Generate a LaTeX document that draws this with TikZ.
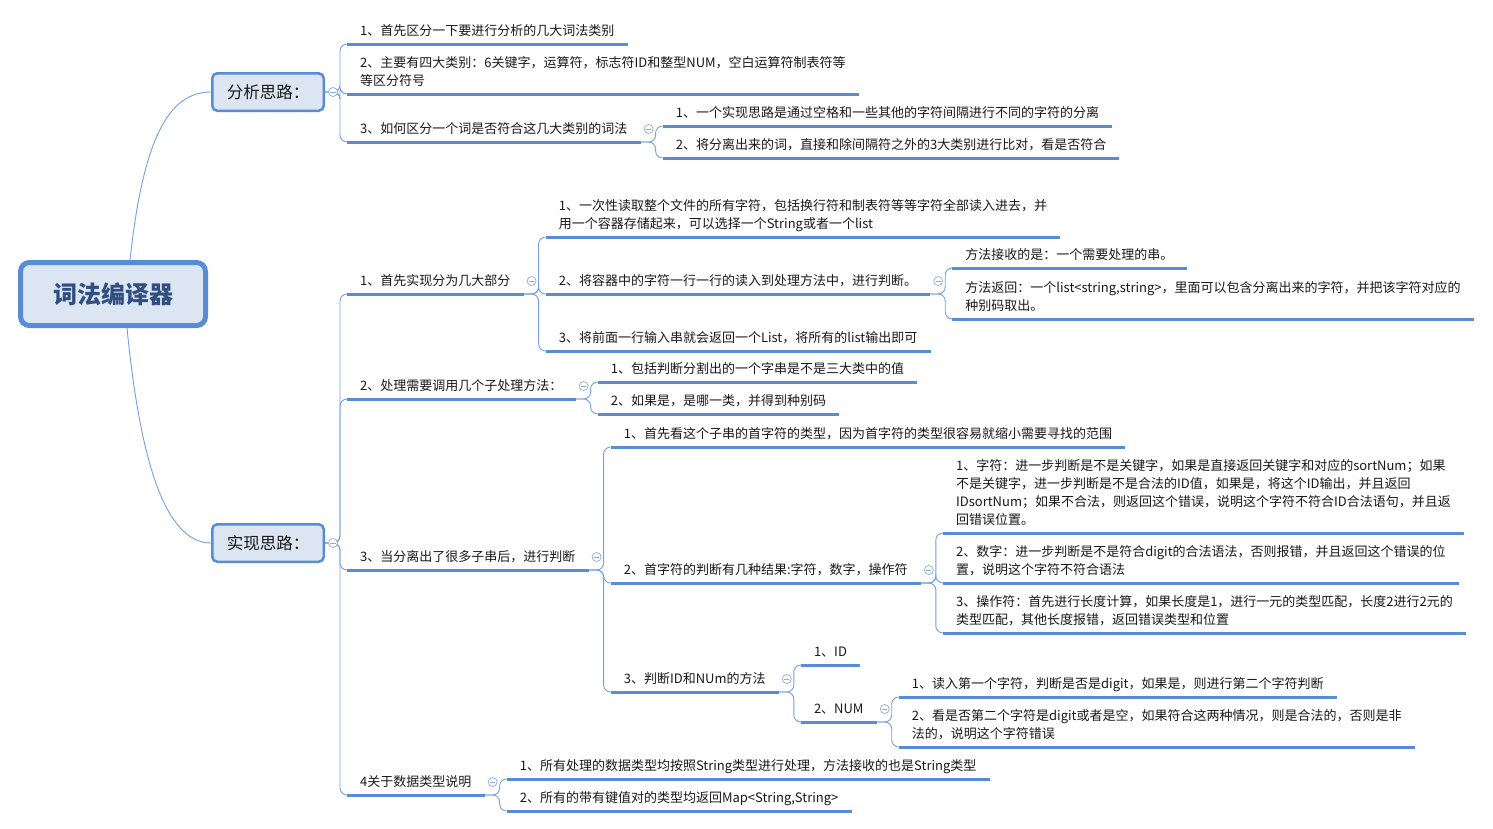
\documentclass[tikz,border=0pt]{standalone}
\usepackage{fontspec}
\newfontfamily\cjk{Noto Sans CJK SC}
\usetikzlibrary{calc}
\definecolor{ulc}{RGB}{88,140,212}
\definecolor{cnc}{RGB}{118,160,222}
\definecolor{boxf}{RGB}{220,230,242}
\definecolor{rootc}{RGB}{48,78,128}
\definecolor{togc}{RGB}{140,172,222}
\definecolor{txt}{RGB}{25,25,25}
\newcommand\mmbranch[2]{%
  \coordinate (#1j) at ([xshift=15pt]#1.south east);
  \foreach \c in {#2} {\draw[conn] (#1.south east) -- (#1j) |- (\c.south west);}
  \node[tog] (#1t) at ([xshift=8pt,yshift=13pt]#1.south east) {};
}
\begin{document}
\begin{tikzpicture}[x=1pt,y=-1pt,
 itm/.style={anchor=south west, inner xsep=13pt, inner ysep=4pt, text depth=4.6pt, align=left, font=\cjk\fontsize{13}{18}\selectfont, text=txt},
 ul/.style={draw=ulc, line width=3pt},
 conn/.style={draw=cnc, line width=0.9pt, rounded corners=7pt},
 tog/.style={circle, draw=togc, fill=white, line width=0.7pt, minimum size=9pt, inner sep=0pt,
   path picture={\draw[togc,line width=0.7pt] ([xshift=-2.6pt]path picture bounding box.center) -- ([xshift=2.6pt]path picture bounding box.center);}},
 topic/.style={draw=ulc, fill=boxf, rounded corners=5pt, line width=2.5pt, minimum width=111.5pt, minimum height=37.5pt, font=\cjk\fontsize{16.5}{20}\selectfont, text=txt},
 rootbox/.style={draw=ulc, fill=boxf, rounded corners=9pt, line width=5pt, minimum width=185pt, minimum height=63pt, font=\cjk\bfseries\fontsize{24}{28}\selectfont, text=rootc}
]
\fill[white] (0,0) rectangle (1493,828);

% main topics
\node[rootbox] (root) at (113,294) {词法编译器};
\node[topic] (A) at (268,92) {分析思路：};
\node[topic] (B) at (268,543) {实现思路：};
\draw[conn] ([xshift=17pt]root.north) .. controls (143,140) and (168,92) .. (A.west);
\draw[conn] ([xshift=14pt]root.south) .. controls (140,460) and (165,543) .. (B.west);

% analysis branch
\node[itm] (a1) at (347,44) {1、首先区分一下要进行分析的几大词法类别};
\node[itm] (a2) at (347,94) {2、主要有四大类别：6关键字，运算符，标志符ID和整型NUM，空白运算符制表符等\\等区分符号};
\node[itm] (a3) at (347,142) {3、如何区分一个词是否符合这几大类别的词法};
\coordinate (a3c) at ([xshift=22pt]a3.south east);
\node[itm] (a31) at (a3c |- 0,126) {1、一个实现思路是通过空格和一些其他的字符间隔进行不同的字符的分离};
\node[itm] (a32) at (a3c |- 0,158) {2、将分离出来的词，直接和除间隔符之外的3大类别进行比对，看是否符合};

% implementation branch
\node[itm] (b1) at (347,294) {1、首先实现分为几大部分};
\coordinate (b1c) at ([xshift=22pt]b1.south east);
\node[itm] (b11) at (b1c |- 0,237) {1、一次性读取整个文件的所有字符，包括换行符和制表符等等字符全部读入进去，并\\用一个容器存储起来，可以选择一个String或者一个list};
\node[itm] (b12) at (b1c |- 0,294) {2、将容器中的字符一行一行的读入到处理方法中，进行判断。};
\node[itm] (b13) at (b1c |- 0,351) {3、将前面一行输入串就会返回一个List，将所有的list输出即可};
\coordinate (b12c) at ([xshift=22pt]b12.south east);
\node[itm] (b121) at (b12c |- 0,268) {方法接收的是：一个需要处理的串。};
\node[itm] (b122) at (b12c |- 0,319) {方法返回：一个list<string,string>，里面可以包含分离出来的字符，并把该字符对应的\\种别码取出。};

\node[itm] (b2) at (347,399) {2、处理需要调用几个子处理方法：};
\coordinate (b2c) at ([xshift=22pt]b2.south east);
\node[itm] (b21) at (b2c |- 0,382) {1、包括判断分割出的一个字串是不是三大类中的值};
\node[itm] (b22) at (b2c |- 0,414) {2、如果是，是哪一类，并得到种别码};

\node[itm] (b3) at (347,570) {3、当分离出了很多子串后，进行判断};
\coordinate (b3c) at ([xshift=22pt]b3.south east);
\node[itm] (b31) at (b3c |- 0,447) {1、首先看这个子串的首字符的类型，因为首字符的类型很容易就缩小需要寻找的范围};
\node[itm] (b32) at (b3c |- 0,583) {2、首字符的判断有几种结果:字符，数字，操作符};
\node[itm] (b33) at (b3c |- 0,692) {3、判断ID和NUm的方法};
\coordinate (b32c) at ([xshift=22pt]b32.south east);
\node[itm] (b321) at (b32c |- 0,533) {1、字符：进一步判断是不是关键字，如果是直接返回关键字和对应的sortNum；如果\\不是关键字，进一步判断是不是合法的ID值，如果是，将这个ID输出，并且返回\\IDsortNum；如果不合法，则返回这个错误，说明这个字符不符合ID合法语句，并且返\\回错误位置。};
\node[itm] (b322) at (b32c |- 0,583) {2、数字：进一步判断是不是符合digit的合法语法，否则报错，并且返回这个错误的位\\置，说明这个字符不符合语法};
\node[itm] (b323) at (b32c |- 0,633) {3、操作符：首先进行长度计算，如果长度是1，进行一元的类型匹配，长度2进行2元的\\类型匹配，其他长度报错，返回错误类型和位置};
\coordinate (b33c) at ([xshift=22pt]b33.south east);
\node[itm] (b331) at (b33c |- 0,665) {1、ID};
\node[itm] (b332) at (b33c |- 0,722) {2、NUM};
\coordinate (b332c) at ([xshift=22pt]b332.south east);
\node[itm] (b3321) at (b332c |- 0,697) {1、读入第一个字符，判断是否是digit，如果是，则进行第二个字符判断};
\node[itm] (b3322) at (b332c |- 0,747) {2、看是否第二个字符是digit或者是空，如果符合这两种情况，则是合法的，否则是非\\法的，说明这个字符错误};

\node[itm] (b4) at (347,795) {4关于数据类型说明};
\coordinate (b4c) at ([xshift=22pt]b4.south east);
\node[itm] (b41) at (b4c |- 0,779) {1、所有处理的数据类型均按照String类型进行处理，方法接收的也是String类型};
\node[itm] (b42) at (b4c |- 0,811) {2、所有的带有键值对的类型均返回Map<String,String>};

% connectors from topic boxes
\coordinate (Aj) at (340,92);
\foreach \c in {a1,a2,a3} {\draw[conn] (A.east) -- (Aj) |- (\c.south west);}
\node[tog] (At) at (333,92) {};
\coordinate (Bj) at (340,543);
\foreach \c in {b1,b2,b3,b4} {\draw[conn] (B.east) -- (Bj) |- (\c.south west);}
\node[tog] (Bt) at (333,543) {};

% connectors from items
\mmbranch{a3}{a31,a32}
\mmbranch{b1}{b11,b12,b13}
\mmbranch{b12}{b121,b122}
\mmbranch{b2}{b21,b22}
\mmbranch{b3}{b31,b32,b33}
\mmbranch{b32}{b321,b322,b323}
\mmbranch{b33}{b331,b332}
\mmbranch{b332}{b3321,b3322}
\mmbranch{b4}{b41,b42}

% underlines
\foreach \n in {a1,a2,a3,a31,a32,b1,b11,b12,b13,b121,b122,b2,b21,b22,b3,b31,b32,b33,b321,b322,b323,b331,b332,b3321,b3322,b4,b41,b42}
  {\draw[ul] (\n.south west) -- (\n.south east);}
\end{tikzpicture}
\end{document}
